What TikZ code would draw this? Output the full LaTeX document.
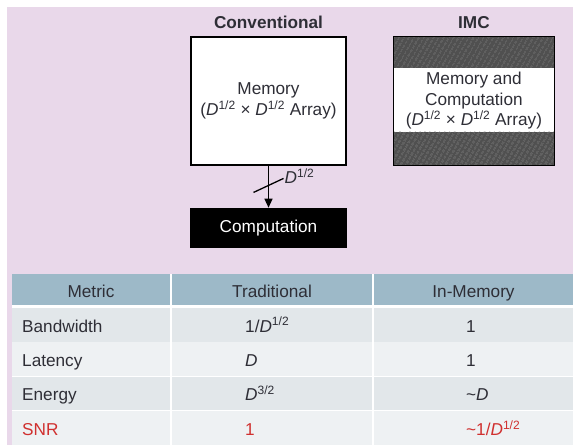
\documentclass[tikz,border=0pt]{standalone}
\usepackage{fontspec}
\setmainfont{Liberation Sans}
\usetikzlibrary{arrows.meta, positioning, patterns.meta}

\definecolor{pinkbg}{HTML}{E9D8EA}
\definecolor{headblue}{HTML}{9DB9C8}
\definecolor{rowgray}{HTML}{E2E7EA}
\definecolor{rowlight}{HTML}{EEF1F3}
\definecolor{ink}{HTML}{2E2E36}
\definecolor{snrred}{HTML}{D0302F}
\definecolor{hatchbg}{HTML}{505050}
\definecolor{hatchline}{HTML}{7C7C7C}

\newcommand{\figfont}{\fontsize{17.2}{20.5}\selectfont}
\newcommand{\Dhalf}{\textit{D}\textsuperscript{1/2}}

\begin{document}
\begin{tikzpicture}[
x=1pt, y=-1pt,
font=\figfont,
box/.style={draw, line width=1.4pt, align=center, text=ink, minimum width=155pt, minimum height=128pt},
title/.style={font=\figfont\bfseries, text=ink, inner sep=0pt},
imcbox/.style={box, fill=white, minimum width=161pt, minimum height=129pt,
  path picture={
    \fill[hatchbg] (path picture bounding box.north west) rectangle ([yshift=-31pt]path picture bounding box.north east);
    \fill[pattern={Lines[angle=60, distance=4pt, line width=0.6pt]}, pattern color=hatchline]
      (path picture bounding box.north west) rectangle ([yshift=-31pt]path picture bounding box.north east);
    \fill[hatchbg] ([yshift=34pt]path picture bounding box.south west) rectangle (path picture bounding box.south east);
    \fill[pattern={Lines[angle=60, distance=4pt, line width=0.6pt]}, pattern color=hatchline]
      ([yshift=34pt]path picture bounding box.south west) rectangle (path picture bounding box.south east);
  }},
arrow/.style={-{Triangle[length=9pt, width=8pt]}, line width=1.3pt},
slash/.style={line width=1.3pt},
headcell/.style={fill=headblue, minimum height=31pt, inner sep=0pt, outer sep=0pt, text height=18pt, text depth=3pt, text=ink},
rowcell/.style={minimum height=33.5pt, inner sep=0pt, outer sep=0pt},
darkrow/.style={rowcell, fill=rowgray},
lightrow/.style={rowcell, fill=rowlight},
colA/.style={minimum width=158pt},
colB/.style={minimum width=200pt},
colC/.style={minimum width=199pt},
celltext/.style={inner sep=0pt, text height=18pt, text depth=3pt, text=ink}
]

\useasboundingbox (0,0) rectangle (573,445);
\fill[pinkbg] (7,7) rectangle (573,445);
\fill[white] (12,274) rectangle (573,445);

% the two architectures
\node[box, fill=white] (mem) at (268.5,101) {Memory\\(\Dhalf\ \texttimes\ \Dhalf\ Array)};
\node[box, fill=black, text=white, minimum height=39pt, below=42pt of mem] (comp) {Computation};
\node[imcbox, right=46pt of mem] (imc) {Memory and\\Computation\\(\Dhalf\ \texttimes\ \Dhalf\ Array)};

\node[title, above=7pt of mem] (conv) {Conventional};
\node[title, above=7pt of imc] (imctitle) {IMC};

\draw[arrow] (mem) -- coordinate[pos=0.47] (bus) (comp);
\draw[slash] ([shift={(-15pt,-7pt)}]bus) -- ([shift={(15pt,7pt)}]bus) coordinate (busend);
\node[anchor=west, inner sep=1pt, text=ink] (buslabel) at ([yshift=2pt]busend) {\Dhalf};

% comparison table
\node[headcell, colA, anchor=north west] (hmetric) at (12,274) {Metric};
\node[headcell, colB, right=2pt of hmetric] (htrad) {Traditional};
\node[headcell, colC, right=2pt of htrad] (himc) {In-Memory};

\node[darkrow, colA, below=3pt of hmetric] (bw1) {};
\node[darkrow, colB, right=2pt of bw1] (bw2) {};
\node[darkrow, colC, right=2pt of bw2] (bw3) {};

\node[lightrow, colA, below=0.75pt of bw1] (lat1) {};
\node[lightrow, colB, right=2pt of lat1] (lat2) {};
\node[lightrow, colC, right=2pt of lat2] (lat3) {};

\node[darkrow, colA, below=0.75pt of lat1] (en1) {};
\node[darkrow, colB, right=2pt of en1] (en2) {};
\node[darkrow, colC, right=2pt of en2] (en3) {};

\node[lightrow, colA, minimum height=34.5pt, below=0.75pt of en1] (snr1) {};
\node[lightrow, colB, minimum height=34.5pt, right=2pt of snr1] (snr2) {};
\node[lightrow, colC, minimum height=34.5pt, right=2pt of snr2] (snr3) {};

\node[celltext, right=10pt of bw1.west] (tbw1) {Bandwidth};
\node[celltext, right=73pt of bw2.west] (tbw2) {1/\Dhalf};
\node[celltext, right=92pt of bw3.west] (tbw3) {1};

\node[celltext, right=10pt of lat1.west] (tlat1) {Latency};
\node[celltext, right=73pt of lat2.west] (tlat2) {\textit{D}};
\node[celltext, right=92pt of lat3.west] (tlat3) {1};

\node[celltext, right=10pt of en1.west] (ten1) {Energy};
\node[celltext, right=73pt of en2.west] (ten2) {\textit{D}\textsuperscript{3/2}};
\node[celltext, right=92pt of en3.west] (ten3) {\textasciitilde\textit{D}};

\node[celltext, text=snrred, right=10pt of snr1.west] (tsnr1) {SNR};
\node[celltext, text=snrred, right=73pt of snr2.west] (tsnr2) {1};
\node[celltext, text=snrred, right=92pt of snr3.west] (tsnr3) {\textasciitilde1/\Dhalf};

\end{tikzpicture}
\end{document}
